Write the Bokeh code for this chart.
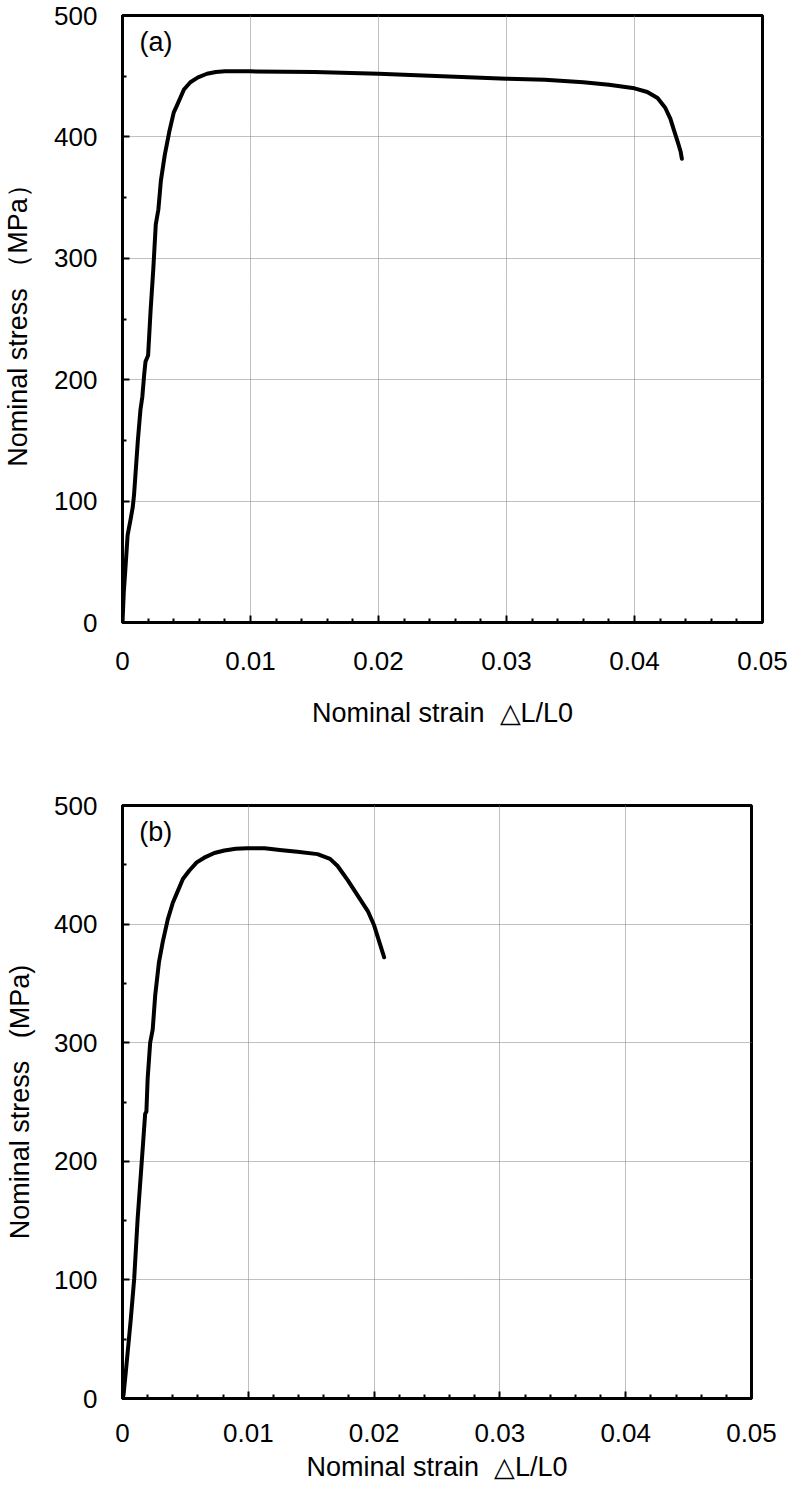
from bokeh.plotting import figure
from bokeh.layouts import column
from bokeh.models import Range1d, FixedTicker, NumeralTickFormatter, Label
from bokeh.embed import file_html
from bokeh.resources import INLINE

# ---- data ----
strain_a = [0, 0.0001, 0.0002, 0.0004, 0.00065, 0.0008, 0.0009, 0.001, 0.0012,
            0.0014, 0.00155, 0.0017, 0.0018, 0.002, 0.0022, 0.0024, 0.0026,
            0.0028, 0.003, 0.0033, 0.00365, 0.004, 0.0043, 0.0048, 0.0053,
            0.0059, 0.0066, 0.0073, 0.008, 0.01, 0.015, 0.02, 0.025, 0.03,
            0.033, 0.036, 0.038, 0.04, 0.041, 0.0418, 0.0424, 0.0428, 0.0431,
            0.0434, 0.0436, 0.0437]
stress_a = [0, 25, 40, 72, 86, 95, 105, 120, 150, 175, 186, 205, 215, 220,
            258, 290, 328, 340, 364, 385, 404, 420, 427, 439, 445, 449, 452,
            453.5, 454, 454, 453.5, 452, 450, 448, 447, 445, 443, 440, 437,
            432, 424, 415, 405, 395, 388, 382]

strain_b = [0, 0.00008, 0.00026, 0.00066, 0.00093, 0.0012, 0.0016, 0.0018,
            0.0019, 0.002, 0.0022, 0.0024, 0.0026, 0.0029, 0.0032, 0.0036,
            0.0040, 0.0044, 0.0048, 0.0053, 0.0059, 0.0065, 0.0073, 0.0081,
            0.009, 0.0099, 0.0113, 0.0125, 0.0139, 0.0155, 0.0165, 0.0171,
            0.0179, 0.0187, 0.0195, 0.02, 0.0205, 0.0208]
stress_b = [0, 3, 22, 67, 101, 151, 210, 240, 242, 270, 300, 311, 340, 368,
            385, 404, 418, 428, 438, 445, 452, 456, 460, 462, 463.5, 464, 464,
            462.5, 461, 459, 455, 449, 437, 424, 411, 399, 382, 372]

x_ticks = [0, 0.01, 0.02, 0.03, 0.04, 0.05]
x_minor = [0.002, 0.004, 0.006, 0.008, 0.012, 0.014, 0.016, 0.018,
           0.022, 0.024, 0.026, 0.028, 0.032, 0.034, 0.036, 0.038,
           0.042, 0.044, 0.046, 0.048]
y_ticks = [0, 100, 200, 300, 400, 500]
y_minor = [50, 150, 250, 350, 450]

ylabel_a = "Nominal stress （MPa）"
ylabel_b = "Nominal stress\u00a0\u00a0\u00a0(MPa)"
xlabel = "Nominal strain\u00a0\u00a0△L/L0"

FONT = "Liberation Sans"


def make_fig(strain, stress, frame_w, frame_h, b_top, b_bottom, b_right,
             ylabel, xlabel, tag, y_std, x_std1, x_std2):
    p = figure(width=783, frame_width=frame_w, frame_height=frame_h,
               x_range=Range1d(0, 0.05), y_range=Range1d(0, 500),
               output_backend="svg", toolbar_location=None,
               min_border_left=117, min_border_right=b_right,
               min_border_top=b_top, min_border_bottom=b_bottom)
    p.background_fill_color = "white"
    p.border_fill_color = "white"
    p.outline_line_color = "black"
    p.outline_line_width = 3

    p.xaxis.ticker = FixedTicker(ticks=x_ticks, minor_ticks=x_minor)
    p.yaxis.ticker = FixedTicker(ticks=y_ticks, minor_ticks=y_minor)
    p.xaxis.formatter = NumeralTickFormatter(format="0.[00]")

    for ax in (p.xaxis, p.yaxis):
        ax.axis_line_width = 3
        ax.axis_line_color = "black"
        ax.major_tick_in = 7
        ax.major_tick_out = 0
        ax.minor_tick_in = 4
        ax.minor_tick_out = 0
        ax.major_tick_line_width = 2
        ax.minor_tick_line_width = 2
        ax.major_tick_line_color = "black"
        ax.minor_tick_line_color = "black"
        ax.major_label_text_font = FONT
        ax.major_label_text_font_size = "26px"
        ax.major_label_text_color = "black"
        ax.axis_label_text_font = FONT
        ax.axis_label_text_font_size = "27px"
        ax.axis_label_text_font_style = "normal"
        ax.axis_label_text_color = "black"

    p.yaxis.major_label_standoff = 25
    p.yaxis.axis_label_standoff = y_std
    p.xaxis.major_label_standoff = x_std1
    p.xaxis.axis_label_standoff = x_std2
    p.yaxis.axis_label = ylabel
    p.xaxis.axis_label = xlabel

    for g in (p.xgrid, p.ygrid):
        g.grid_line_color = "#808080"
        g.grid_line_width = 1
        g.grid_line_dash = "1 1"
    p.xgrid.ticker = FixedTicker(ticks=x_ticks[1:-1])
    p.ygrid.ticker = FixedTicker(ticks=y_ticks[1:-1])

    p.line(strain, stress, line_width=4, line_color="black",
           line_join="round", line_cap="round")

    p.add_layout(Label(x=0.00133, y=478, text=tag, text_font=FONT,
                       text_font_size="27px", text_baseline="middle",
                       text_align="left", text_color="black"))
    return p


p1 = make_fig(strain_a, stress_a, 640, 607, 15, 130, 26,
              ylabel_a, xlabel, "(a)", 18, 29, 25)
p2 = make_fig(strain_b, stress_b, 629, 593, 53, 92, 37,
              ylabel_b, xlabel, "(b)", 16, 25, 7)

layout = column(p1, p2, spacing=0)
open("out.html", "w").write(file_html(layout, INLINE))
